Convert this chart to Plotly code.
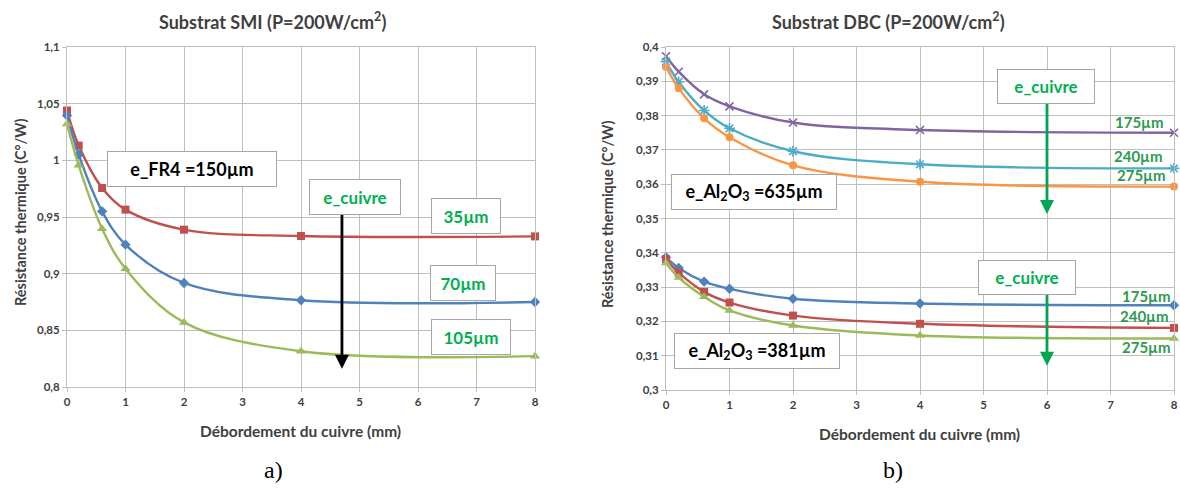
import plotly.graph_objects as go

# ---------------- data ----------------
x_pts = [0, 0.2, 0.6, 1, 2, 4, 8]

# (a) Substrat SMI
smi_35 = [1.044, 1.013, 0.9756, 0.9565, 0.9388, 0.9332, 0.9329]
smi_70 = [1.0396, 1.005, 0.955, 0.9256, 0.8918, 0.8765, 0.875]
smi_105 = [1.032, 0.9956, 0.9397, 0.9044, 0.857, 0.8316, 0.8272]

# (b) Substrat DBC, Al2O3 = 635 µm
dbc635_175 = [0.3973, 0.3928, 0.3862, 0.3827, 0.3780, 0.3758, 0.3750]
dbc635_240 = [0.3957, 0.3898, 0.3815, 0.3763, 0.3696, 0.3658, 0.3646]
dbc635_275 = [0.3942, 0.3880, 0.3792, 0.3737, 0.3655, 0.3607, 0.3593]
# (b) Substrat DBC, Al2O3 = 381 µm
dbc381_175 = [0.3387, 0.3356, 0.3316, 0.3295, 0.3266, 0.3252, 0.3247]
dbc381_240 = [0.3381, 0.3342, 0.3286, 0.3255, 0.3217, 0.3193, 0.3181]
dbc381_275 = [0.3370, 0.3328, 0.3272, 0.3232, 0.3188, 0.3159, 0.3150]

x_ticks = [0, 1, 2, 3, 4, 5, 6, 7, 8]
x_ticktext = ["0", "1", "2", "3", "4", "5", "6", "7", "8"]
y1_ticks = [0.8, 0.85, 0.9, 0.95, 1.0, 1.05, 1.1]
y1_ticktext = ["0,8", "0,85", "0,9", "0,95", "1", "1,05", "1,1"]
y2_ticks = [0.30, 0.31, 0.32, 0.33, 0.34, 0.35, 0.36, 0.37, 0.38, 0.39, 0.40]
y2_ticktext = ["0,3", "0,31", "0,32", "0,33", "0,34", "0,35", "0,36", "0,37", "0,38", "0,39", "0,4"]

# ---------------- style ----------------
FONT = "Lato"
RED, BLUE, GREEN = "#C0504D", "#4F81BD", "#9BBB59"
PURPLE, TEAL, ORANGE = "#8064A2", "#4BACC6", "#F79646"
LBL_GREEN = "#00B050"
LBL_GREEN2 = "#2E9A50"
GRID = "#BFBFBF"

fig = go.Figure()


def add_series(xa, ya, y, color, symbol, size, lcolor=None, lw=0):
    fig.add_trace(go.Scatter(
        x=x_pts, y=y, xaxis=xa, yaxis=ya, mode="lines+markers",
        line=dict(color=color, width=2.4, shape="spline", smoothing=1.0),
        marker=dict(symbol=symbol, size=size, color=color,
                    line=dict(color=lcolor or color, width=lw)),
        showlegend=False, hoverinfo="skip", cliponaxis=False))


add_series("x", "y", smi_35, RED, "square", 8)
add_series("x", "y", smi_70, BLUE, "diamond", 8)
add_series("x", "y", smi_105, GREEN, "triangle-up", 9)

add_series("x2", "y2", dbc635_175, PURPLE, "x-thin-open", 8, PURPLE, 1.6)
add_series("x2", "y2", dbc635_240, TEAL, "asterisk-open", 9, TEAL, 1.6)
add_series("x2", "y2", dbc635_275, ORANGE, "circle", 8)
add_series("x2", "y2", dbc381_175, BLUE, "diamond", 8)
add_series("x2", "y2", dbc381_240, RED, "square", 8)
add_series("x2", "y2", dbc381_275, GREEN, "triangle-up", 9)

W, H = 1180, 489
PW = W
L1, R1 = 67 / PW, 535 / PW
L2, R2 = 666 / PW, 1174 / PW
TOP = 1 - 47 / H
B1 = 1 - 387 / H
B2 = 1 - 390 / H

axis_common = dict(showgrid=True, gridcolor=GRID, gridwidth=1, zeroline=False,
                   showline=True, linecolor=GRID, linewidth=1, mirror=True,
                   ticks="outside", ticklen=4, tickcolor=GRID, ticklabeloverflow="allow",
                   tickfont=dict(family=FONT, size=11.5, color="#404040", weight="bold"))

fig.update_layout(
    width=W, height=H, margin=dict(l=0, r=0, t=0, b=0, autoexpand=False),
    paper_bgcolor="white", plot_bgcolor="white",
    xaxis=dict(domain=[L1, R1], range=[0, 8], tickvals=x_ticks, ticktext=x_ticktext,
               anchor="y", **axis_common),
    yaxis=dict(domain=[B1, TOP], range=[0.8, 1.1], tickvals=y1_ticks, ticktext=y1_ticktext,
               anchor="x", **axis_common),
    xaxis2=dict(domain=[L2, R2], range=[0, 8], tickvals=x_ticks, ticktext=x_ticktext,
                anchor="y2", **axis_common),
    yaxis2=dict(domain=[B2, TOP], range=[0.3, 0.4], tickvals=y2_ticks, ticktext=y2_ticktext,
                anchor="x2", **axis_common),
)

ann = []


def paper_text(x, y, text, size, color="#404040", angle=0, family=FONT, bold=True):
    ann.append(dict(x=x / PW, y=1 - y / H, xref="paper", yref="paper", text=text,
                    showarrow=False, textangle=angle, xanchor="center", yanchor="middle",
                    font=dict(family=family, size=size, color=color,
                              weight="bold" if bold else "normal")))


paper_text(272, 21, "Substrat SMI (P=200W/cm<sup>2</sup>)", 18)
paper_text(889, 21, "Substrat DBC (P=200W/cm<sup>2</sup>)", 18)
paper_text(20, 212, "Résistance thermique (C°/W)", 14.5, angle=-90)
paper_text(607, 214, "Résistance thermique (C°/W)", 14.5, angle=-90)
paper_text(301, 431, "Débordement du cuivre (mm)", 15.5)
paper_text(919, 434, "Débordement du cuivre (mm)", 15.5)
paper_text(273, 470, "a)", 24, color="black", family="Liberation Serif", bold=False)
paper_text(893, 470, "b)", 24, color="black", family="Liberation Serif", bold=False)


def box(xa, ya, x, y, text, color, w, h, size=18):
    ann.append(dict(x=x, y=y, xref=xa, yref=ya, text=text, showarrow=False,
                    xanchor="center", yanchor="middle", width=w, height=h,
                    bgcolor="white", bordercolor="#A6A6A6", borderwidth=1, borderpad=2,
                    font=dict(family=FONT, size=size, color=color, weight="bold")))


def plain(xa, ya, x, y, text, color, size=15):
    ann.append(dict(x=x, y=y, xref=xa, yref=ya, text=text, showarrow=False,
                    xanchor="right", yanchor="middle",
                    font=dict(family=FONT, size=size, color=color, weight="bold")))


def arrow(xa, ya, x, y0, y1, color):
    ann.append(dict(x=x, y=y1, ax=x, ay=y0, xref=xa, yref=ya, axref=xa, ayref=ya,
                    text="", showarrow=True, arrowhead=2, arrowsize=1, arrowwidth=2.8,
                    arrowcolor=color, standoff=0, startstandoff=0))


# (a) annotations
arrow("x", "y", 4.70, 0.9544, 0.816, "black")
box("x", "y", 2.14, 0.9926, "e_FR4 =150µm", "black", 164, 30, 18)
box("x", "y", 4.93, 0.968, "e_cuivre", LBL_GREEN, 86, 30, 17)
box("x", "y", 6.82, 0.951, "35µm", LBL_GREEN, 64, 30, 17)
box("x", "y", 6.77, 0.892, "70µm", LBL_GREEN, 60, 30, 17)
box("x", "y", 6.90, 0.8445, "105µm", LBL_GREEN, 74, 30, 17)

# (b) annotations
arrow("x2", "y2", 6.0, 0.384, 0.3513, "#00A651")
arrow("x2", "y2", 6.0, 0.3284, 0.3071, "#00A651")
box("x2", "y2", 5.99, 0.3884, "e_cuivre", LBL_GREEN, 92, 29, 17)
box("x2", "y2", 5.68, 0.3329, "e_cuivre", LBL_GREEN, 92, 29, 17)
box("x2", "y2", 1.39, 0.3577, "e_Al<sub>2</sub>O<sub>3</sub> =635µm", "black", 160, 30, 18)
box("x2", "y2", 1.43, 0.3113, "e_Al<sub>2</sub>O<sub>3</sub> =381µm", "black", 160, 30, 18)
plain("x2", "y2", 7.88, 0.3780, "175µm", LBL_GREEN2)
plain("x2", "y2", 7.86, 0.3681, "240µm", LBL_GREEN2)
plain("x2", "y2", 7.90, 0.3628, "275µm", LBL_GREEN2)
plain("x2", "y2", 7.98, 0.3274, "175µm", LBL_GREEN2)
plain("x2", "y2", 7.96, 0.3216, "240µm", LBL_GREEN2)
plain("x2", "y2", 7.99, 0.3124, "275µm", LBL_GREEN2)

fig.update_layout(annotations=ann)
fig.write_html(
    "out.html",
    config={"displayModeBar": False, "staticPlot": True},
    post_script="document.body.style.margin='0';document.body.style.overflow='hidden';",
)
